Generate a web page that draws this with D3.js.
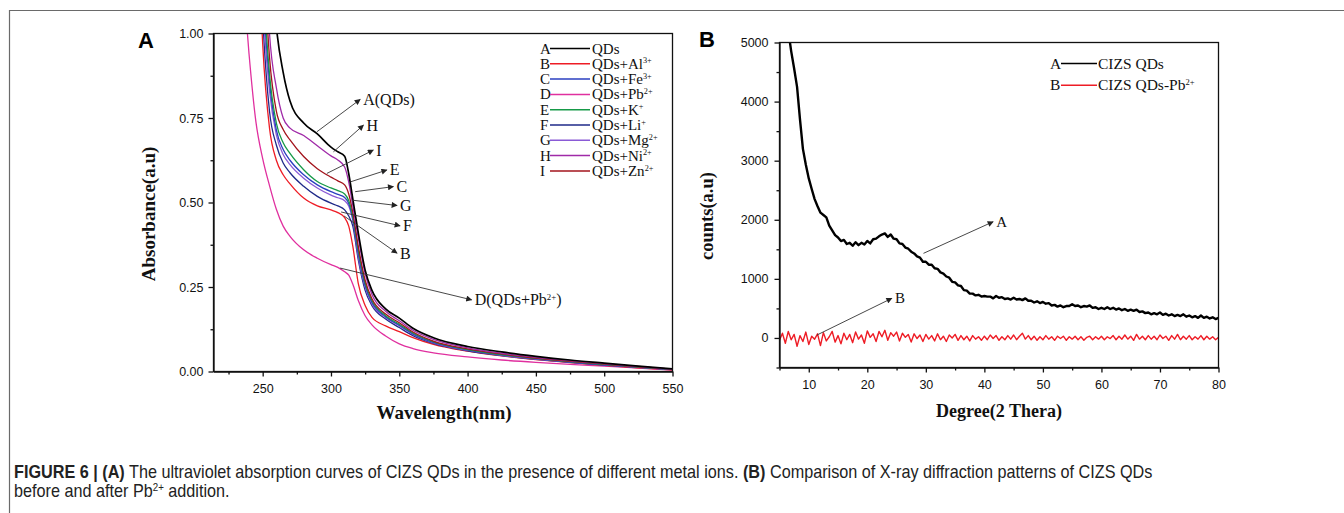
<!DOCTYPE html>
<html>
<head>
<meta charset="utf-8">
<title>CIZS QDs: UV absorption and XRD</title>
<script src="https://cdnjs.cloudflare.com/ajax/libs/d3/7.8.5/d3.min.js"></script>
<style>
  body { margin: 0; background: #fff; }
  .tick text { font-family: "Liberation Sans", Arial, sans-serif; font-size: 12.5px; fill: #111; }
  .serif { font-family: "Liberation Serif", "Times New Roman", serif; fill: #111; }
</style>
</head>
<body>
<svg id="fig" width="1344" height="513"></svg>
<script>
// ---- panel A: UV absorption (wavelength in nm, absorbance in a.u.)
const wavelengths = [230,235,240,245,250,255,260,265,270,280,290,300,305,310,313,316,320,325,330,340,350,360,375,400,425,450,475,500,525,550];
const absA = [4,3.4,2.8,2.2,1.7,1.3,1.02,0.885,0.8,0.735,0.703,0.664,0.65,0.637,0.585,0.51,0.41,0.30,0.24,0.185,0.158,0.128,0.1,0.074,0.058,0.045,0.034,0.025,0.016,0.008];
const absH = [4,3.4,2.7,2.0,1.45,1.0,0.84,0.75,0.72,0.698,0.668,0.638,0.626,0.605,0.56,0.49,0.395,0.29,0.228,0.178,0.15,0.122,0.095,0.07,0.054,0.042,0.032,0.023,0.015,0.007];
const absI = [4,3.3,2.6,1.9,1.3,0.93,0.77,0.716,0.685,0.636,0.6,0.575,0.564,0.552,0.525,0.47,0.37,0.27,0.215,0.17,0.144,0.117,0.09,0.067,0.052,0.04,0.03,0.022,0.014,0.007];
const absE = [4,3.2,2.5,1.8,1.2,0.88,0.735,0.677,0.645,0.597,0.562,0.543,0.535,0.525,0.505,0.46,0.36,0.262,0.21,0.165,0.14,0.114,0.088,0.065,0.05,0.039,0.029,0.021,0.013,0.007];
const absC = [4,3.2,2.4,1.75,1.15,0.86,0.715,0.657,0.625,0.582,0.552,0.532,0.524,0.515,0.497,0.452,0.35,0.255,0.205,0.162,0.137,0.111,0.086,0.064,0.049,0.038,0.028,0.02,0.013,0.006];
const absG = [4,3.1,2.4,1.7,1.1,0.83,0.7,0.642,0.612,0.572,0.543,0.522,0.514,0.505,0.49,0.447,0.34,0.25,0.2,0.16,0.135,0.11,0.085,0.063,0.048,0.037,0.028,0.02,0.012,0.006];
const absF = [4,3.1,2.3,1.6,1.05,0.77,0.67,0.617,0.588,0.548,0.518,0.498,0.49,0.478,0.46,0.43,0.33,0.24,0.195,0.155,0.13,0.106,0.083,0.061,0.047,0.036,0.027,0.019,0.012,0.006];
const absB = [4,3.0,2.2,1.5,0.97,0.72,0.625,0.582,0.555,0.513,0.49,0.478,0.47,0.455,0.43,0.37,0.26,0.195,0.16,0.135,0.118,0.1,0.08,0.06,0.046,0.035,0.026,0.018,0.011,0.005];
const absD = [1.45,1.2,0.94,0.74,0.63,0.55,0.48,0.43,0.4,0.36,0.335,0.316,0.308,0.295,0.285,0.258,0.21,0.165,0.138,0.105,0.082,0.068,0.055,0.043,0.034,0.027,0.021,0.016,0.01,0.004];

const uvSeries = [
  { key: "A", label: "QDs",    sup: "",   color: "#000000", values: absA },
  { key: "B", label: "QDs+Al", sup: "3+", color: "#ee1c25", values: absB },
  { key: "C", label: "QDs+Fe", sup: "3+", color: "#2b3fc0", values: absC },
  { key: "D", label: "QDs+Pb", sup: "2+", color: "#e0309f", values: absD },
  { key: "E", label: "QDs+K",  sup: "+",  color: "#169a48", values: absE },
  { key: "F", label: "QDs+Li", sup: "+",  color: "#1f2a88", values: absF },
  { key: "G", label: "QDs+Mg", sup: "2+", color: "#8a5ad6", values: absG },
  { key: "H", label: "QDs+Ni", sup: "2+", color: "#a02aa8", values: absH },
  { key: "I", label: "QDs+Zn", sup: "2+", color: "#a3141c", values: absI }
];
const uvDrawOrder = ["D", "B", "F", "G", "C", "E", "I", "H", "A"];

const uvXTicks = [250, 300, 350, 400, 450, 500, 550];
const uvXMinor = [225, 275, 325, 375, 425, 475, 525];
const uvYTicks = [0, 0.25, 0.5, 0.75, 1.0];
const uvYMinor = [0.125, 0.375, 0.625, 0.875];

// arrows: [from wavelength, from abs, to wavelength, to abs, text, sup]
const uvNotes = [
  [289.6, 0.709, 321.4, 0.805, "A(QDs)", ""],
  [301.8, 0.650, 323.8, 0.729, "H", ""],
  [297.0, 0.586, 331.0, 0.655, "I", ""],
  [314.2, 0.561, 340.9, 0.596, "E", ""],
  [317.7, 0.532, 345.7, 0.547, "C", ""],
  [315.3, 0.507, 348.4, 0.491, "G", ""],
  [307.4, 0.472, 350.6, 0.431, "F", ""],
  [309.6, 0.460, 348.4, 0.350, "B", ""],
  [306.7, 0.306, 403.0, 0.212, "D(QDs+Pb", "2+"]
];

// ---- panel B: XRD, 2 theta from 5 to 80 in 0.5 degree steps
const xrdDegrees = d3.range(5, 80.001, 0.5);
const xrdQDs = [
  6500, 6000, 5600, 5200, 4850, 4560, 4250, 3700, 3200, 2930,
  2700, 2520, 2350, 2230, 2120, 2080, 2040, 1900, 1820, 1740,
  1700, 1640, 1660, 1590, 1610, 1560, 1620, 1570, 1610, 1580,
  1640, 1600, 1670, 1680, 1720, 1750, 1770, 1710, 1750, 1680,
  1670, 1600, 1590, 1530, 1510, 1460, 1430, 1380, 1360, 1290,
  1290, 1240, 1240, 1180, 1170, 1110, 1090, 1040, 1020, 950,
  940, 890, 880, 810, 800, 750, 750, 720, 730, 700,
  710, 700, 700, 670, 710, 680, 690, 660, 670, 650,
  680, 650, 660, 640, 670, 630, 630, 600, 620, 590,
  610, 580, 590, 550, 560, 530, 550, 520, 540, 540,
  570, 540, 550, 520, 540, 530, 550, 510, 520, 490,
  510, 490, 520, 490, 510, 480, 500, 470, 490, 460,
  480, 460, 480, 440, 450, 420, 430, 400, 420, 400,
  430, 390, 410, 380, 400, 370, 390, 370, 400, 360,
  380, 350, 370, 340, 380, 340, 360, 330, 350, 320,
  340
];
const xrdQDsPb = [
  -40, 80, -90, 110, -30, 60, -140, 40, -60, 100,
  -110, 30, -20, 70, -130, 90, -50, 20, 110, -70,
  40, -100, 80, -30, 60, -80, 100, -20, 50, -90,
  120, 10, 70, -60, 110, 20, 130, -40, 90, 30,
  100, -50, 80, 10, 60, -70, 70, -10, 50, -60,
  60, -20, 40, -50, 70, -30, 30, -60, 50, 0,
  60, -40, 40, -30, 30, -50, 40, -20, 20, -40,
  30, -30, 50, -10, 40, -40, 20, -30, 40, -20,
  50, -30, 30, 80, -20, 40, -30, 30, -40, 20,
  -30, 40, -20, 20, -40, 30, -10, 30, -40, 20,
  -20, 30, -30, 20, -40, 10, 30, -30, 20, -20,
  30, -30, 20, -10, 40, -30, 30, -20, 50, -20,
  30, -40, 60, -20, 30, -30, 40, -20, 30, -30,
  50, -10, 30, -40, 40, -20, 60, -30, 30, -20,
  40, -30, 20, -20, 40, -30, 30, -20, 20, -30,
  10
];
const xrdSeries = [
  { key: "A", label: "CIZS QDs",    sup: "",   color: "#000000", width: 2.4, values: xrdQDs },
  { key: "B", label: "CIZS QDs-Pb", sup: "2+", color: "#ee1c25", width: 1.4, values: xrdQDsPb }
];
const xrdXTicks = [10, 20, 30, 40, 50, 60, 70, 80];
const xrdXMinor = [5, 15, 25, 35, 45, 55, 65, 75];
const xrdYTicks = [0, 1000, 2000, 3000, 4000, 5000];
const xrdYMinor = [-500, 500, 1500, 2500, 3500, 4500];
const xrdNotes = [
  [29.6, 1432, 41.5, 1967, "A", ""],
  [11.4, 50, 24.2, 671, "B", ""]
];

// ---------------------------------------------------------------
const svg = d3.select("#fig");
svg.append("rect").attr("width", 1344).attr("height", 513).attr("fill", "#fff");

// outer figure frame (only left/top visible in the crop)
svg.append("path").attr("d", "M9.5,513V10.5H1344")
  .attr("fill", "none").attr("stroke", "#6a6a6a").attr("stroke-width", 1.2);

const defs = svg.append("defs");
defs.append("marker").attr("id", "arrow")
  .attr("viewBox", "0 0 10 10").attr("refX", 9).attr("refY", 5)
  .attr("markerWidth", 8).attr("markerHeight", 6).attr("markerUnits", "userSpaceOnUse")
  .attr("orient", "auto")
  .append("path").attr("d", "M0,0L10,5L0,10Z").attr("fill", "#222");

// text with an optional superscript
function supText(sel, main, sup, size) {
  sel.append("tspan").text(main);
  if (sup) {
    sel.append("tspan").attr("font-size", size * 0.55).attr("dy", -size * 0.36).text(sup);
  }
}

function drawAxes(g, x, y, o) {
  const [x0, x1] = x.range();
  const [y0, y1] = y.range();
  g.append("g").attr("transform", `translate(0,${y0})`)
    .call(d3.axisBottom(x).tickValues(o.xTicks).tickSize(5).tickSizeOuter(0).tickPadding(o.xPad));
  g.append("g").attr("transform", `translate(0,${y0})`)
    .call(d3.axisBottom(x).tickValues(o.xMinor).tickSize(3).tickSizeOuter(0).tickFormat(""))
    .select(".domain").remove();
  g.append("g").attr("transform", `translate(${x0},0)`)
    .call(d3.axisLeft(y).tickValues(o.yTicks).tickSize(5).tickSizeOuter(0).tickPadding(o.yPad).tickFormat(o.yFmt));
  g.append("g").attr("transform", `translate(${x0},0)`)
    .call(d3.axisLeft(y).tickValues(o.yMinor).tickSize(3).tickSizeOuter(0).tickFormat(""))
    .select(".domain").remove();
  g.selectAll(".domain, .tick line").attr("stroke", "#111").attr("stroke-width", 1.3);
  g.append("rect").attr("x", x0).attr("y", y1).attr("width", x1 - x0).attr("height", y0 - y1)
    .attr("fill", "none").attr("stroke", "#111").attr("stroke-width", 1.3);
}

function drawNotes(g, x, y, notes, size) {
  notes.forEach(n => {
    g.append("line")
      .attr("x1", x(n[0])).attr("y1", y(n[1]))
      .attr("x2", x(n[2])).attr("y2", y(n[3]))
      .attr("stroke", "#333").attr("stroke-width", 0.9)
      .attr("marker-end", "url(#arrow)");
    const t = g.append("text").attr("class", "serif")
      .attr("x", x(n[2]) + 3).attr("y", y(n[3]) + size * 0.34)
      .attr("font-size", size);
    supText(t, n[4], n[5], size);
    if (n[5]) t.append("tspan").attr("dy", size * 0.36).text(")");
  });
}

// ---------------- panel A ----------------
const xA = d3.scaleLinear().domain([214, 550]).range([213.5, 672.5]);
const yA = d3.scaleLinear().domain([0, 1]).range([371.5, 33.5]);
const gA = svg.append("g");

defs.append("clipPath").attr("id", "clipA").append("rect")
  .attr("x", 213.5).attr("y", 33.5).attr("width", 459).attr("height", 338);

const lineA = d3.line().curve(d3.curveMonotoneX)
  .x((d, i) => xA(wavelengths[i])).y(d => yA(d));

gA.append("g").attr("clip-path", "url(#clipA)")
  .selectAll("path").data(uvDrawOrder.map(k => uvSeries.find(s => s.key === k)))
  .join("path")
  .attr("d", s => lineA(s.values))
  .attr("fill", "none").attr("stroke", s => s.color)
  .attr("stroke-width", s => s.key === "A" ? 1.7 : 1.3);

drawAxes(gA, xA, yA, {
  xTicks: uvXTicks, xMinor: uvXMinor, yTicks: uvYTicks, yMinor: uvYMinor,
  xPad: 8, yPad: 5, yFmt: d3.format(".2f")
});

// legend A
const legA = gA.append("g").selectAll("g").data(uvSeries).join("g")
  .attr("transform", (d, i) => `translate(540,${48.5 + i * 15.3})`);
legA.append("text").attr("class", "serif").attr("font-size", 15).attr("y", 5).text(d => d.key);
legA.append("line").attr("x1", 10).attr("x2", 50).attr("stroke", d => d.color).attr("stroke-width", 1.5);
legA.append("text").attr("class", "serif").attr("font-size", 15).attr("x", 52).attr("y", 5)
  .each(function (d) { supText(d3.select(this), d.label, d.sup, 15); });

drawNotes(gA, xA, yA, uvNotes, 16);

gA.append("text").attr("class", "serif").attr("font-weight", "bold").attr("font-size", 19)
  .attr("text-anchor", "middle").attr("x", 444).attr("y", 419).text("Wavelength(nm)");
gA.append("text").attr("class", "serif").attr("font-weight", "bold").attr("font-size", 19)
  .attr("text-anchor", "middle").attr("transform", "translate(155,214) rotate(-90)")
  .text("Absorbance(a.u)");
gA.append("text").attr("font-family", "Liberation Sans, Arial, sans-serif").attr("font-weight", "bold")
  .attr("font-size", 22).attr("x", 138).attr("y", 48).text("A");

// ---------------- panel B ----------------
const xB = d3.scaleLinear().domain([5, 80]).range([779.5, 1218.5]);
const yB = d3.scaleLinear().domain([-500, 5000]).range([367.5, 42.5]);
const gB = svg.append("g");

defs.append("clipPath").attr("id", "clipB").append("rect")
  .attr("x", 779.5).attr("y", 42.5).attr("width", 439).attr("height", 325);

const lineB = d3.line().x((d, i) => xB(xrdDegrees[i])).y(d => yB(d));

gB.append("g").attr("clip-path", "url(#clipB)")
  .selectAll("path").data(xrdSeries.slice().reverse()).join("path")
  .attr("d", s => lineB(s.values))
  .attr("fill", "none").attr("stroke", s => s.color)
  .attr("stroke-width", s => s.width).attr("stroke-linejoin", "round");

drawAxes(gB, xB, yB, {
  xTicks: xrdXTicks, xMinor: xrdXMinor, yTicks: xrdYTicks, yMinor: xrdYMinor,
  xPad: 7.5, yPad: 6, yFmt: d3.format("d")
});

const legB = gB.append("g").selectAll("g").data(xrdSeries).join("g")
  .attr("transform", (d, i) => `translate(1050,${63.5 + i * 21.7})`);
legB.append("text").attr("class", "serif").attr("font-size", 15.5).attr("y", 5).text(d => d.key);
legB.append("line").attr("x1", 11).attr("x2", 47).attr("stroke", d => d.color).attr("stroke-width", 1.5);
legB.append("text").attr("class", "serif").attr("font-size", 15.5).attr("x", 48).attr("y", 5)
  .each(function (d) { supText(d3.select(this), d.label, d.sup, 15.5); });

drawNotes(gB, xB, yB, xrdNotes, 15);

gB.append("text").attr("class", "serif").attr("font-weight", "bold").attr("font-size", 18)
  .attr("text-anchor", "middle").attr("x", 999).attr("y", 417).text("Degree(2 Thera)");
gB.append("text").attr("class", "serif").attr("font-weight", "bold").attr("font-size", 18.5)
  .attr("text-anchor", "middle").attr("transform", "translate(713,216) rotate(-90)")
  .text("counts(a.u)");
gB.append("text").attr("font-family", "Liberation Sans, Arial, sans-serif").attr("font-weight", "bold")
  .attr("font-size", 22).attr("x", 699).attr("y", 47).text("B");

// ---------------- caption ----------------
const capFont = "'Liberation Sans Narrow', 'Liberation Sans', Arial, sans-serif";
const cap1 = svg.append("text").attr("font-family", capFont).attr("font-size", 17.5).attr("fill", "#222");
cap1.append("tspan").attr("font-weight", "bold").text("FIGURE 6 | (A)");
cap1.append("tspan").text(" The ultraviolet absorption curves of CIZS QDs in the presence of different metal ions. ");
cap1.append("tspan").attr("font-weight", "bold").text("(B)");
cap1.append("tspan").text(" Comparison of X-ray diffraction patterns of CIZS QDs");
const sx = 1139 / cap1.node().getComputedTextLength();
cap1.attr("transform", `translate(14,478) scale(${sx},1)`);

const cap2 = svg.append("text").attr("font-family", capFont).attr("font-size", 17.5).attr("fill", "#222")
  .attr("transform", `translate(14,497) scale(${sx},1)`);
cap2.append("tspan").text("before and after Pb");
cap2.append("tspan").attr("font-size", 10.5).attr("dy", -6.5).text("2+");
cap2.append("tspan").attr("dy", 6.5).text(" addition.");
</script>
</body>
</html>
